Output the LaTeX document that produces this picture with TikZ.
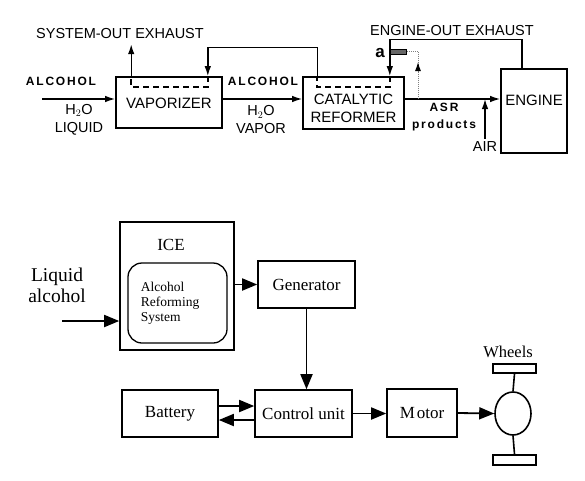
\documentclass[tikz,border=0pt]{standalone}
\usepackage{fontspec}
\setmainfont{Liberation Serif}
\newfontfamily\arialfont{Liberation Sans}
\newfontfamily\spacedfont{Liberation Sans}[LetterSpace=15]
\usetikzlibrary{arrows.meta,positioning,calc,shapes.geometric}

\begin{document}
\begin{tikzpicture}[x=1pt, y=-1pt, >={Latex[length=10pt,width=6.5pt]},
  blk/.style={draw, line width=1.6pt, inner sep=0pt},
  lbl/.style={inner sep=0pt, align=center, font=\arialfont\fontsize{14.5}{18}\selectfont},
  boxtxt/.style={inner sep=0pt, align=center, font=\arialfont\fontsize{15}{18}\selectfont},
  bld/.style={inner sep=0pt, font=\spacedfont\bfseries\fontsize{12}{17}\selectfont, align=center},
  pipe/.style={line width=1.4pt},
  hx/.style={line width=1.6pt, dash pattern=on 6pt off 4pt},
  unit/.style={draw, line width=1.6pt, inner sep=0pt, font=\fontsize{17}{20}\selectfont},
  big/.style={line width=1.8pt, -{Triangle[length=15pt,width=12pt]}}]
  \useasboundingbox (0,0) rectangle (585,480);
  % upper scheme: vaporizer, reformer, engine
  \coordinate (flow) at (0,99);
  \node[blk, minimum width=106, minimum height=51] (vap) at (169,102.5) {};
  \node[boxtxt] (vaptxt) at (169,103) {VAPORIZER};
  \node[blk, minimum width=101, minimum height=52] (ref) at (353.5,103) {};
  \node[boxtxt] (reftxt) at (353.5,108) {CATALYTIC\\REFORMER};
  \node[blk, minimum width=66, minimum height=84] (eng) at (534,111) {};
  \node[boxtxt] (engtxt) at (534,100) {ENGINE};
  \node[lbl] (sysout) at (120,34) {SYSTEM-OUT EXHAUST};
  \node[lbl] (engout) at (452,31) {ENGINE-OUT EXHAUST};
  \node[bld] (alc1) at (61,81) {ALCOHOL};
  \node[lbl] (liq) at (79,120) {H$_2$O\\LIQUID};
  \node[bld] (alc2) at (263,81) {ALCOHOL};
  \node[lbl] (vapor) at (261,120) {H$_2$O\\VAPOR};
  \node[bld] (asr) at (444,117) {ASR\\products};
  \node[lbl] (air) at (485,147) {AIR};
  \node[draw, fill=black!60, line width=0.8pt, minimum width=17pt, minimum height=5pt, inner sep=0pt] (sens) at (397.5,51.5) {};
  \node[inner sep=0pt, font=\arialfont\bfseries\fontsize{17}{17}\selectfont] (alab) at (380,53.5) {a};
  \coordinate (alcin) at (42,99);
  \coordinate (tap) at (418,99);
  \draw[pipe,->] (alcin) -- (alcin -| vap.west);
  \draw[pipe,->] (vap.east |- flow) -- (ref.west |- flow);
  \draw[pipe,->] (ref.east |- flow) -- (eng.west |- flow);
  \draw[pipe,->] ([yshift=3pt]air.north) -- (air.north |- flow);
  \draw[pipe,->] ([xshift=-12pt]eng.north) -- ++(0,-28.6) -| ([xshift=-15pt]ref.north east);
  \draw[hx] ([xshift=-15pt]ref.north east) -- ++(0,11) -| ([xshift=15pt]ref.north west);
  \draw[pipe,->] ([xshift=15pt]ref.north west) -- ++(0,-29) -| ([xshift=-15pt]vap.north east);
  \draw[hx] ([xshift=-15pt]vap.north east) -- ++(0,11) -| ([xshift=16pt]vap.north west);
  \draw[pipe,->] ([xshift=16pt]vap.north west) -- ++(0,-32);
  \draw[gray, densely dotted, line width=1pt] (tap) |- (sens.east);
  \draw[gray, densely dotted, line width=1pt, -{Latex[length=9pt,width=6pt,black]}] (tap) -- ++(0,-37);
  % lower scheme: hybrid drive
  \node[unit, minimum width=114, minimum height=128] (ice) at (177,286) {};
  \node[inner sep=0pt, font=\fontsize{17}{20}\selectfont] (icetxt) at (171,245) {ICE};
  \node[draw, line width=1.3pt, rounded corners=14pt, minimum width=99, minimum height=80, inner sep=0pt] (ars) at (177.5,303) {};
  \node[inner sep=0pt, align=left, font=\fontsize{13.5}{15}\selectfont] (arstxt) at (170,303) {Alcohol\\Reforming\\System};
  \node[inner sep=0pt, align=center, font=\fontsize{19.5}{21}\selectfont] (liqalc) at (57,285) {Liquid\\alcohol};
  \node[unit, minimum width=97, minimum height=47] (gen) at (306.5,284.5) {Generator};
  \node[unit, minimum width=97, minimum height=47] (ctrl) at (303.5,413.5) {Control unit};
  \node[unit, minimum width=96, minimum height=47] (bat) at (170,413.5) {Battery};
  \node[unit, minimum width=70, minimum height=48] (mot) at (422,413) {M\kern2pt otor};
  \node[draw, ellipse, line width=1.6pt, minimum width=36, minimum height=43, inner sep=0pt] (whl) at (513,413.5) {};
  \node[draw, line width=1.6pt, minimum width=43, minimum height=9, inner sep=0pt] (wtop) at (514.5,368.5) {};
  \node[draw, line width=1.6pt, minimum width=43, minimum height=10, inner sep=0pt] (wbot) at (514.5,460) {};
  \node[inner sep=0pt, font=\fontsize{16.5}{18}\selectfont] (whtxt) at (508,352) {Wheels};
  \coordinate (liqin) at (62,321);
  \draw[big] (liqin) -- (liqin -| ice.west);
  \draw[big] (ice.east |- gen.west) -- (gen.west);
  \draw[big] (gen.south) -- (gen.south |- ctrl.north);
  \draw[big] ([yshift=7.5pt]bat.east) -- ([yshift=7.5pt]bat.east -| ctrl.west);
  \draw[big] ([yshift=-6.5pt]ctrl.west) -- ([yshift=-6.5pt]bat.east);
  \draw[big] (ctrl.east) -- (ctrl.east -| mot.west);
  \draw[big] (mot.east) -- (whl.west);
  \draw[line width=1.6pt] (whl.north) -- (wtop.south);
  \draw[line width=1.6pt] (whl.south) -- (wbot.north);
\end{tikzpicture}
\end{document}
